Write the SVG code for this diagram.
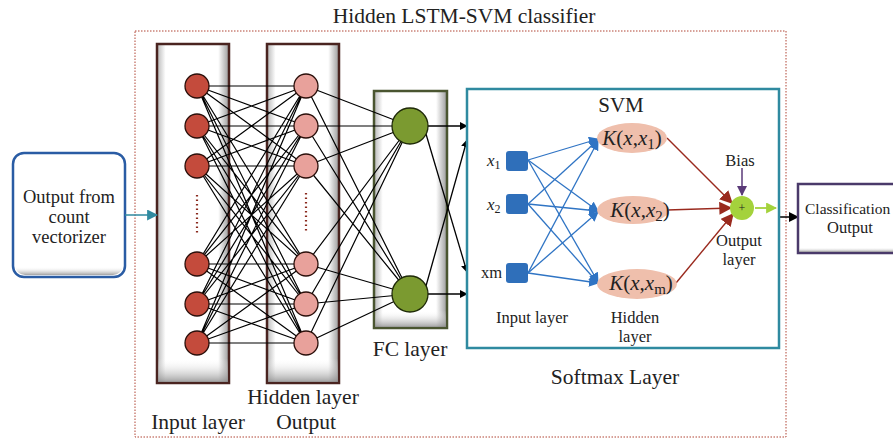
<svg xmlns="http://www.w3.org/2000/svg" width="893" height="438" viewBox="0 0 893 438">
<defs>
<linearGradient id="gshade" x1="0" y1="0" x2="1" y2="0">
<stop offset="0" stop-color="#b8b8b8"/>
<stop offset="0.12" stop-color="#ffffff"/>
<stop offset="0.85" stop-color="#ffffff"/>
<stop offset="1" stop-color="#9a9a9a"/>
</linearGradient>
<linearGradient id="gshadeV" x1="0" y1="0" x2="0" y2="1">
<stop offset="0" stop-color="#ffffff" stop-opacity="0"/>
<stop offset="0.93" stop-color="#ffffff" stop-opacity="0"/>
<stop offset="1" stop-color="#8a8a8a" stop-opacity="0.8"/>
</linearGradient>
<marker id="ablack" viewBox="0 0 10 10" refX="9" refY="5" markerWidth="8" markerHeight="8" markerUnits="userSpaceOnUse" orient="auto"><path d="M0,0 L10,5 L0,10 Z" fill="#000"/></marker>
<marker id="ablack2" viewBox="0 0 10 10" refX="9" refY="5" markerWidth="10" markerHeight="10" markerUnits="userSpaceOnUse" orient="auto"><path d="M0,0 L10,5 L0,10 Z" fill="#000"/></marker>
<marker id="ateal" viewBox="0 0 10 10" refX="9" refY="5" markerWidth="11" markerHeight="11" markerUnits="userSpaceOnUse" orient="auto"><path d="M0,0 L10,5 L0,10 Z" fill="#2f8aa0"/></marker>
<marker id="ablue" viewBox="0 0 10 10" refX="9" refY="5" markerWidth="10" markerHeight="10" markerUnits="userSpaceOnUse" orient="auto"><path d="M0,0 L10,5 L0,10 Z" fill="#2f74c4"/></marker>
<marker id="ared" viewBox="0 0 10 10" refX="9" refY="5" markerWidth="13" markerHeight="13" markerUnits="userSpaceOnUse" orient="auto"><path d="M0,0 L10,5 L0,10 Z" fill="#9a2a1e"/></marker>
<marker id="apurple" viewBox="0 0 10 10" refX="9" refY="5" markerWidth="10" markerHeight="10" markerUnits="userSpaceOnUse" orient="auto"><path d="M0,0 L10,5 L0,10 Z" fill="#5a3a78"/></marker>
<marker id="agreen" viewBox="0 0 10 10" refX="9" refY="5" markerWidth="11" markerHeight="11" markerUnits="userSpaceOnUse" orient="auto"><path d="M0,0 L10,5 L0,10 Z" fill="#a4d23c"/></marker>
</defs>
<style>
text{font-family:"Liberation Serif","DejaVu Serif",serif;fill:#222}
.big{font-size:21.5px}
.mid{font-size:18.5px}
.sm{font-size:16.5px}
.net{stroke:#000;stroke-width:1.2;fill:none}
.blue{stroke:#2f74c4;stroke-width:1.3;fill:none;marker-end:url(#ablue)}
.red{stroke:#9a2a1e;stroke-width:1.4;fill:none;marker-end:url(#ared)}
.inN{fill:#c44b3c;stroke:#2a0f0a;stroke-width:1.3}
.hidN{fill:#e8a19b;stroke:#2a0f0a;stroke-width:1.3}
.fcN{fill:#7b9a30;stroke:#1f2a08;stroke-width:1.3}
.sq{fill:#2f6fba}
.kern{fill:#efbfac}
.kt{font-size:21px}
.it{font-style:italic}
.dots{stroke:#8a2a1e;stroke-width:2.2;stroke-dasharray:1.5,3;fill:none}
</style>

<text class="big" x="464" y="23" text-anchor="middle">Hidden LSTM-SVM classifier</text>
<rect id="outer" x="135" y="31" width="651" height="406" fill="none" stroke="#b04434" stroke-width="1" stroke-dasharray="1.5,1.5"/>

<g id="input-box">
<rect x="13" y="153" width="112" height="124" rx="11" fill="#fff" stroke="#2a5ca4" stroke-width="2.5"/>
<rect x="15" y="155" width="108" height="120" rx="10" fill="url(#gshadeV)"/>
<text class="mid" x="69" y="203" text-anchor="middle">Output from</text>
<text class="mid" x="69" y="223" text-anchor="middle">count</text>
<text class="mid" x="69" y="243" text-anchor="middle">vectorizer</text>
</g>

<g id="layer-input-box">
<rect x="157" y="44" width="72" height="339" fill="url(#gshade)" stroke="#4a2420" stroke-width="2.5"/>
<rect x="158" y="45" width="70" height="337" fill="url(#gshadeV)"/>
</g>
<g id="layer-hidden-box">
<rect x="267" y="44" width="72" height="339" fill="url(#gshade)" stroke="#4a2420" stroke-width="2.5"/>
<rect x="268" y="45" width="70" height="337" fill="url(#gshadeV)"/>
</g>
<g id="layer-fc-box">
<rect x="374" y="91" width="73" height="237" fill="url(#gshade)" stroke="#4a5530" stroke-width="2.5"/>
<rect x="375" y="92" width="71" height="235" fill="url(#gshadeV)"/>
</g>

<g id="connectors">
<line x1="125" y1="215" x2="157" y2="215" stroke="#2f8aa0" stroke-width="1.5" marker-end="url(#ateal)"/>
<g id="in-hid">
<path class="net" d="M197,86 L306,86 M197,86 L306,126 M197,86 L306,166 M197,86 L306,264 M197,86 L306,304 M197,86 L306,343
M197,126 L306,86 M197,126 L306,126 M197,126 L306,166 M197,126 L306,264 M197,126 L306,304 M197,126 L306,343
M197,166 L306,86 M197,166 L306,126 M197,166 L306,166 M197,166 L306,264 M197,166 L306,304 M197,166 L306,343
M197,264 L306,86 M197,264 L306,126 M197,264 L306,166 M197,264 L306,264 M197,264 L306,304 M197,264 L306,343
M197,304 L306,86 M197,304 L306,126 M197,304 L306,166 M197,304 L306,264 M197,304 L306,304 M197,304 L306,343
M197,343 L306,86 M197,343 L306,126 M197,343 L306,166 M197,343 L306,264 M197,343 L306,304 M197,343 L306,343"/>
</g>
<g id="hid-fc">
<path class="net" d="M306,86 L410,126 M306,126 L410,126 M306,166 L410,126 M306,264 L410,126 M306,304 L410,126 M306,343 L410,126
M306,86 L410,294 M306,126 L410,294 M306,166 L410,294 M306,264 L410,294 M306,304 L410,294 M306,343 L410,294"/>
</g>
<g id="fc-svm">
<line x1="428" y1="126" x2="467" y2="126" stroke="#000" stroke-width="1.3" marker-end="url(#ablack)"/>
<line x1="426" y1="134" x2="467" y2="272" stroke="#000" stroke-width="1.3" marker-end="url(#ablack)"/>
<line x1="426" y1="286" x2="467" y2="140" stroke="#000" stroke-width="1.3" marker-end="url(#ablack)"/>
<line x1="428" y1="294" x2="467" y2="294" stroke="#000" stroke-width="1.3" marker-end="url(#ablack)"/>
</g>
<line x1="775" y1="217" x2="798" y2="217" stroke="#000" stroke-width="1.5" marker-end="url(#ablack2)"/>
</g>

<g id="input-nodes">
<circle class="inN" cx="197" cy="86" r="12"/>
<circle class="inN" cx="197" cy="126" r="12"/>
<circle class="inN" cx="197" cy="166" r="12"/>
<circle class="inN" cx="197" cy="264" r="12"/>
<circle class="inN" cx="197" cy="304" r="12"/>
<circle class="inN" cx="197" cy="343" r="12"/>
<line class="dots" x1="197" y1="195" x2="197" y2="234"/>
</g>
<g id="hidden-nodes">
<circle class="hidN" cx="306" cy="86" r="12"/>
<circle class="hidN" cx="306" cy="126" r="12"/>
<circle class="hidN" cx="306" cy="166" r="12"/>
<circle class="hidN" cx="306" cy="264" r="12"/>
<circle class="hidN" cx="306" cy="304" r="12"/>
<circle class="hidN" cx="306" cy="343" r="12"/>
<line class="dots" x1="306" y1="193" x2="306" y2="233"/>
</g>
<g id="fc-nodes">
<circle class="fcN" cx="410" cy="126" r="18"/>
<circle class="fcN" cx="410" cy="294" r="18"/>
</g>

<text class="big" x="198" y="429" text-anchor="middle">Input layer</text>
<text class="big" x="303" y="404" text-anchor="middle">Hidden layer</text>
<text class="big" x="306" y="429" text-anchor="middle">Output</text>
<text class="big" x="410" y="356" text-anchor="middle">FC layer</text>

<g id="svm">
<rect x="467" y="89" width="312" height="259" fill="#fff" stroke="#2f8aa0" stroke-width="2.5"/>
<text class="big" x="621" y="112" text-anchor="middle" style="font-size:21px">SVM</text>
<rect class="sq" x="506" y="151" width="22" height="20" rx="3"/>
<rect class="sq" x="506" y="194" width="22" height="20" rx="3"/>
<rect class="sq" x="506" y="263" width="22" height="20" rx="3"/>
<text x="487" y="166" style="font-size:17px"><tspan class="it">x</tspan><tspan dy="3" font-size="12">1</tspan></text>
<text x="487" y="210" style="font-size:17px"><tspan class="it">x</tspan><tspan dy="3" font-size="12">2</tspan></text>
<text class="sm" x="481" y="278">xm</text>
<text class="sm" x="532" y="323" text-anchor="middle">Input layer</text>
<text class="sm" x="635" y="323" text-anchor="middle">Hidden</text>
<text class="sm" x="635" y="342" text-anchor="middle">layer</text>
<text class="big" x="615" y="384" text-anchor="middle">Softmax Layer</text>
</g>

<g id="svm-connectors">
<line class="blue" x1="528" y1="160" x2="598" y2="139"/>
<line class="blue" x1="528" y1="160" x2="598" y2="211"/>
<line class="blue" x1="528" y1="160" x2="598" y2="282"/>
<line class="blue" x1="528" y1="204" x2="598" y2="140"/>
<line class="blue" x1="528" y1="204" x2="598" y2="211"/>
<line class="blue" x1="528" y1="204" x2="598" y2="283"/>
<line class="blue" x1="528" y1="273" x2="598" y2="141"/>
<line class="blue" x1="528" y1="273" x2="598" y2="212"/>
<line class="blue" x1="528" y1="273" x2="598" y2="283"/>
<line class="red" x1="667" y1="138" x2="732" y2="203"/>
<line class="red" x1="667" y1="210" x2="731" y2="208"/>
<line class="red" x1="676" y1="283" x2="733" y2="214"/>
<line x1="742" y1="168" x2="742" y2="195" stroke="#5a3a78" stroke-width="1.5" marker-end="url(#apurple)"/>
<line x1="755" y1="208" x2="776" y2="208" stroke="#a4d23c" stroke-width="1.8" marker-end="url(#agreen)"/>
</g>

<g id="kernel1">
<ellipse class="kern" cx="632" cy="138" rx="35" ry="15"/>
<text class="kt" x="632" y="145" text-anchor="middle"><tspan class="it">K</tspan>(<tspan class="it">x</tspan>,<tspan class="it">x</tspan><tspan dy="4" font-size="15">1</tspan><tspan dy="-4">)</tspan></text>
</g>
<g id="kernel2">
<ellipse class="kern" cx="633" cy="210" rx="36" ry="14"/>
<text class="kt" x="640" y="217" text-anchor="middle"><tspan class="it">K</tspan>(<tspan class="it">x</tspan>,<tspan class="it">x</tspan><tspan dy="4" font-size="15">2</tspan><tspan dy="-4">)</tspan></text>
</g>
<g id="kernelm">
<ellipse class="kern" cx="637" cy="284" rx="40" ry="15"/>
<text class="kt" x="641" y="290" text-anchor="middle"><tspan class="it">K</tspan>(<tspan class="it">x</tspan>,<tspan class="it">x</tspan><tspan dy="4" font-size="15">m</tspan><tspan dy="-4">)</tspan></text>
</g>
<g id="sum">
<circle cx="742" cy="208" r="12" fill="#a4d23c"/>
<text x="742" y="212" text-anchor="middle" style="font-size:12px">+</text>
<text class="sm" x="740" y="166" text-anchor="middle">Bias</text>
<text class="sm" x="739" y="246" text-anchor="middle">Output</text>
<text class="sm" x="739" y="265" text-anchor="middle">layer</text>
</g>

<g id="classification-output">
<rect x="798" y="184" width="110" height="69" fill="#fff" stroke="#4a3a6a" stroke-width="2.5"/>
<rect x="799" y="185" width="108" height="67" fill="url(#gshadeV)"/>
<text x="805" y="214" style="font-size:15.5px">Classification</text>
<text class="sm" x="850" y="233" text-anchor="middle">Output</text>
</g>
</svg>
